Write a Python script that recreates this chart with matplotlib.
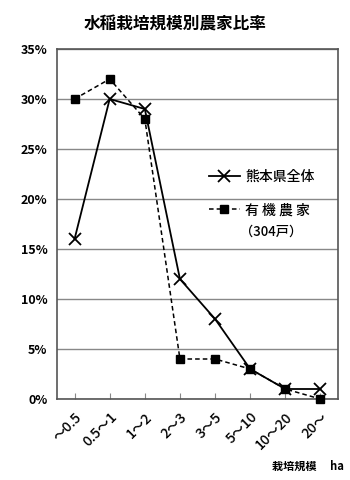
import matplotlib
matplotlib.use("Agg")
import matplotlib.pyplot as plt
from matplotlib.ticker import FuncFormatter

plt.rcParams['font.family'] = ['Noto Sans CJK JP', 'DejaVu Sans']

categories = ["～0.5", "0.5～1", "1～2", "2～3", "3～5", "5～10", "10～20", "20～"]
kumamoto = [16, 30, 29, 12, 8, 3, 1, 1]
organic = [30, 32, 28, 4, 4, 3, 1, 0]
yticks = [0, 5, 10, 15, 20, 25, 30, 35]

fig = plt.figure(figsize=(3.5, 4.8), dpi=100)
ax = fig.add_axes([57/350, 1-399/480, 281/350, 350/480])

x = list(range(len(categories)))
ax.plot(x, kumamoto, color='black', lw=1.3, marker='x', ms=8, mew=1.3,
        label='熊本県全体', clip_on=False, zorder=3)
ax.plot(x, organic, color='black', lw=1.1, ls=(0, (3, 2)), marker='s', ms=5.5,
        label='有 機 農 家', clip_on=False, zorder=3)

ax.set_xlim(-0.5, len(categories) - 0.5)
ax.set_ylim(0, 35)
ax.set_yticks(yticks)
ax.yaxis.set_major_formatter(FuncFormatter(lambda v, p: f"{int(v)}%"))
ax.grid(axis='y', color='#888888', lw=1)
ax.set_axisbelow(True)
for s in ax.spines.values():
    s.set_color('#555555')
    s.set_linewidth(1.2)
ax.tick_params(axis='y', length=0, pad=7, labelsize=9)
ax.set_xticks(x)
ax.set_xticklabels(categories, rotation=45, ha='right', va='top',
                   rotation_mode='anchor', fontsize=10)
ax.tick_params(axis='x', direction='in', length=4, color='#888888', pad=8)
for lab in ax.get_yticklabels():
    lab.set_fontweight('bold')
for lab in ax.get_xticklabels():
    lab.set_fontweight('medium')

leg = ax.legend(loc='center left', bbox_to_anchor=(152/281, (399-193.5)/350),
                frameon=False, fontsize=10, handlelength=2.2, labelspacing=1.4,
                handletextpad=0.4, borderpad=0, borderaxespad=0)
for t in leg.get_texts():
    t.set_fontweight('medium')
fig.text(240/350, 1-232/480, '（304戸）', ha='left', va='center', fontsize=9.5,
         fontweight='medium')

fig.text(0.5, 1-25/480, '水稲栽培規模別農家比率', ha='center', va='center',
         fontsize=12, fontweight='bold')
fig.text(0.88, 1-466/480, '栽培規模　 ha', ha='center', va='center',
         fontsize=8, fontweight='bold')

fig.savefig('out.png', dpi=100)
